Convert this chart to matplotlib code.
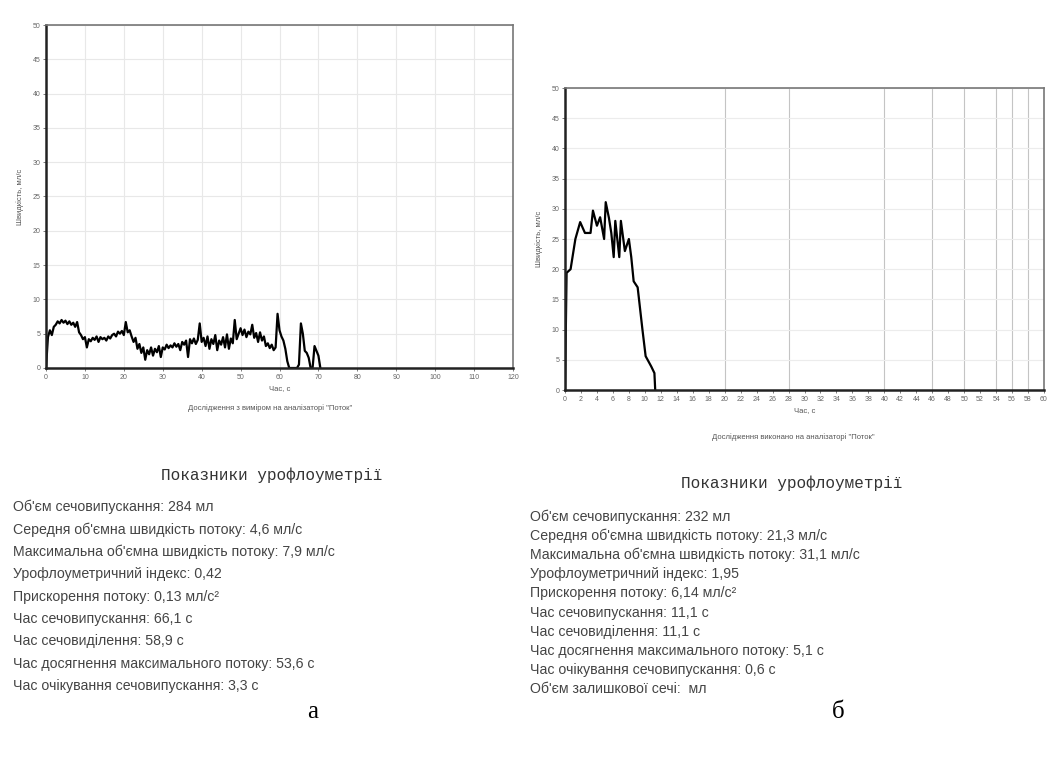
import matplotlib
matplotlib.use("Agg")
import matplotlib.pyplot as plt
import numpy as np

# ---------------- data ----------------
# Chart a: flow (ml/s) sampled every 0.5 s
flow_a_step = 0.5
flow_a = [0, 4.5, 5.5, 4.8, 6.0, 6.3, 6.8, 6.5, 7.0, 6.6, 6.9, 6.4, 6.8, 6.3, 6.6, 6.0,
          6.7, 5.2, 4.8, 4.2, 4.5, 3.0, 4.2, 3.9, 4.4, 4.1, 4.6, 3.8, 4.5, 4.2, 4.4, 4.0,
          4.6, 4.3, 4.8, 5.0, 4.6, 5.3, 5.0, 5.4, 4.8, 6.7, 5.2, 5.5, 4.6, 3.8, 4.4, 2.8,
          3.5, 2.2, 3.0, 1.2, 2.6, 2.0, 3.0, 1.8, 2.8, 2.3, 3.2, 1.6, 3.0, 2.7, 3.4, 2.9,
          3.3, 3.0, 3.6, 3.1, 3.5, 2.6, 3.8, 3.4, 4.0, 1.6, 4.2, 3.6, 4.3, 3.5, 4.1, 6.5,
          3.8, 4.4, 3.2, 4.6, 2.8, 4.2, 3.5, 4.8, 2.6, 4.0, 3.4, 4.5, 3.0, 4.9, 2.8, 4.3,
          3.6, 7.0, 4.2, 5.0, 5.8, 4.8, 5.6, 4.5, 5.3, 4.9, 6.3, 4.4, 5.1, 3.8, 5.2, 4.0,
          4.6, 3.2, 3.6, 2.9, 3.4, 2.6, 3.0, 7.9, 5.5, 4.6, 4.0, 2.8, 1.0, 0, 0, 0,
          0, 0, 0.5, 6.5, 5.0, 2.5, 2.2, 1.5, 0, 0, 3.2, 2.5, 1.8, 0]

# Chart b: flow curve points (time s, flow ml/s)
time_b = [0, 0.2, 0.7, 1.3, 1.9, 2.5, 3.2, 3.5, 4.0, 4.4, 4.9, 5.1, 5.5, 5.8, 6.1, 6.3,
          6.8, 7.0, 7.5, 8.0, 8.3, 8.6, 9.1, 9.7, 10.1, 10.8, 11.2, 11.3]
flow_b = [0, 19.4, 20.0, 25.0, 27.8, 26.0, 26.0, 29.7, 27.2, 28.6, 25.0, 31.1, 28.5, 26.0,
          22.0, 28.0, 22.0, 28.0, 23.0, 25.0, 22.0, 18.0, 17.0, 10.0, 5.6, 3.9, 2.8, 0]

xticks_a = list(range(0, 121, 10))
xticks_b = list(range(0, 61, 2))
yticks = list(range(0, 51, 5))
grid_b_x = [20, 28, 40, 46, 50, 54, 56, 58]

title_text = "Показники урофлоуметрії"
lines_a = [
    "Об'єм сечовипускання: 284 мл",
    "Середня об'ємна швидкість потоку: 4,6 мл/с",
    "Максимальна об'ємна швидкість потоку: 7,9 мл/с",
    "Урофлоуметричний індекс: 0,42",
    "Прискорення потоку: 0,13 мл/с²",
    "Час сечовипускання: 66,1 с",
    "Час сечовиділення: 58,9 с",
    "Час досягнення максимального потоку: 53,6 с",
    "Час очікування сечовипускання: 3,3 с",
]
lines_b = [
    "Об'єм сечовипускання: 232 мл",
    "Середня об'ємна швидкість потоку: 21,3 мл/с",
    "Максимальна об'ємна швидкість потоку: 31,1 мл/с",
    "Урофлоуметричний індекс: 1,95",
    "Прискорення потоку: 6,14 мл/с²",
    "Час сечовипускання: 11,1 с",
    "Час сечовиділення: 11,1 с",
    "Час досягнення максимального потоку: 5,1 с",
    "Час очікування сечовипускання: 0,6 с",
    "Об'єм залишкової сечі:  мл",
]
ylabel = "Швидкість, мл/с"
xlabel = "Час, с"
caption_a = "Дослідження з виміром на аналізаторі \"Поток\""
caption_b = "Дослідження виконано на аналізаторі \"Поток\""

# ---------------- figure ----------------
W, H = 1047, 758
fig = plt.figure(figsize=(W / 100, H / 100), dpi=100)
fig.patch.set_facecolor("white")
plt.rcParams['font.family'] = ['Liberation Sans', 'DejaVu Sans']

def px(x, y, w, h):
    return [x / W, 1 - (y + h) / H, w / W, h / H]

tick_color = "#666666"

def style_axes(ax):
    ax.set_yticks(yticks)
    ax.set_ylim(0, 50)
    ax.tick_params(axis='both', labelsize=5, colors=tick_color, length=2, width=0.6, pad=2)
    for s in ['left', 'bottom']:
        ax.spines[s].set_color('#222222')
        ax.spines[s].set_linewidth(1.8)
    for s in ['top', 'right']:
        ax.spines[s].set_color('#777777')
        ax.spines[s].set_linewidth(1.2)

# --- chart a ---
ax1 = fig.add_axes(px(46, 25, 467, 343))
t_a = np.arange(len(flow_a)) * flow_a_step
ax1.plot(t_a, flow_a, color='black', lw=1.6)
ax1.set_xlim(0, 120)
ax1.set_xticks(xticks_a)
style_axes(ax1)
ax1.grid(True, color='#e8e8e8', lw=0.8)
ax1.set_axisbelow(True)
ax1.set_ylabel(ylabel, fontsize=5.5, color='#555555', labelpad=6)
ax1.set_xlabel(xlabel, fontsize=5.5, color='#555555', labelpad=3)
fig.text(270 / W, 1 - 408 / H, caption_a, fontsize=5.5, color='#555555', ha='center', va='center')

# --- chart b ---
ax2 = fig.add_axes(px(565, 88, 479, 302))
ax2.plot(time_b, flow_b, color='black', lw=1.6)
ax2.set_xlim(0, 60)
ax2.set_xticks(xticks_b)
style_axes(ax2)
ax2.grid(True, axis='y', color='#ececec', lw=0.8)
for gx in grid_b_x:
    ax2.axvline(gx, color='#c4c4c4', lw=0.8, zorder=0)
ax2.set_ylabel(ylabel, fontsize=5.5, color='#555555', labelpad=6)
ax2.set_xlabel(xlabel, fontsize=5.5, color='#555555', labelpad=3)
fig.text(793 / W, 1 - 437 / H, caption_b, fontsize=5.5, color='#555555', ha='center', va='center')

# --- text blocks ---
fig.text(272 / W, 1 - 475 / H, title_text, fontsize=11.5, family=['Liberation Mono', 'DejaVu Sans Mono'],
         color='#333333', ha='center', va='center')
fig.text(792 / W, 1 - 483 / H, title_text, fontsize=11.5, family=['Liberation Mono', 'DejaVu Sans Mono'],
         color='#333333', ha='center', va='center')

for i, line in enumerate(lines_a):
    fig.text(13 / W, 1 - (507 + i * 22.4) / H, line, fontsize=10.2, color='#444444',
             ha='left', va='center')
for i, line in enumerate(lines_b):
    fig.text(530 / W, 1 - (517 + i * 19.1) / H, line, fontsize=10.2, color='#444444',
             ha='left', va='center')

fig.text(313 / W, 1 - 712 / H, "а", fontsize=18, family=['Liberation Serif', 'DejaVu Serif'],
         ha='center', va='center')
fig.text(838 / W, 1 - 712 / H, "б", fontsize=18, family=['Liberation Serif', 'DejaVu Serif'],
         ha='center', va='center')

fig.savefig("out.png", dpi=100, facecolor='white')
